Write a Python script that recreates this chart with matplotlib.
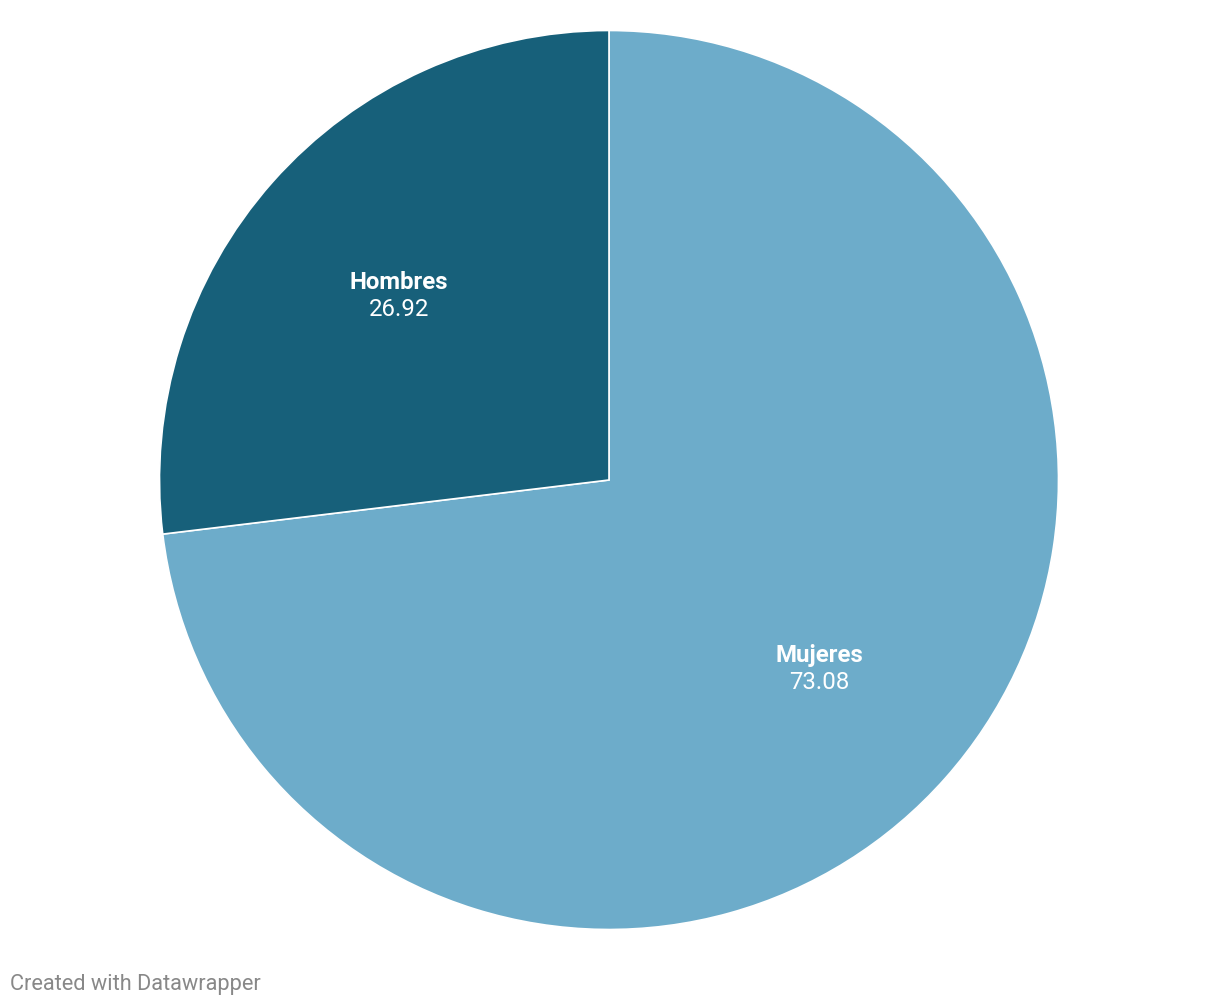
import matplotlib
matplotlib.use("Agg")
import matplotlib.pyplot as plt
import matplotlib.transforms as mtransforms
import numpy as np

categories = ["Mujeres", "Hombres"]
values = [73.08, 26.92]
value_labels = ["73.08", "26.92"]
colors = ["#6dacca", "#17607a"]

W, H = 1220, 1006
fig = plt.figure(figsize=(W / 100, H / 100), dpi=100)
cx, cy, r = 609, 480, 449.5
ax = fig.add_axes([(cx - r) / W, (H - cy - r) / H, 2 * r / W, 2 * r / H])
wedges, _ = ax.pie(values, colors=colors, startangle=90, counterclock=False,
                   radius=1, wedgeprops=dict(edgecolor="white", linewidth=1.2))
ax.set_xlim(-1, 1)
ax.set_ylim(-1, 1)
ax.set_aspect("equal")
ax.axis("off")

up = mtransforms.offset_copy(ax.transData, fig=fig, x=0, y=13.5, units="dots")
down = mtransforms.offset_copy(ax.transData, fig=fig, x=0, y=-13.5, units="dots")

start = 90.0
total = sum(values)
for cat, v, vl in zip(categories, values, value_labels):
    mid = start - v / total * 360 / 2
    start -= v / total * 360
    a = np.deg2rad(mid)
    x, y = 0.625 * np.cos(a), 0.625 * np.sin(a)
    ax.text(x, y, cat, ha="center", va="center_baseline", color="white",
            fontsize=17.3, fontweight="bold", family="Roboto", transform=up)
    ax.text(x, y, vl, ha="center", va="center_baseline", color="white",
            fontsize=17.3, family="Roboto", transform=down)

fig.text(10 / W, 1 - 990 / H, "Created with Datawrapper", ha="left", va="baseline",
         color="#888888", fontsize=15.7, family="Roboto")

fig.savefig("out.png", dpi=100, facecolor="white")
